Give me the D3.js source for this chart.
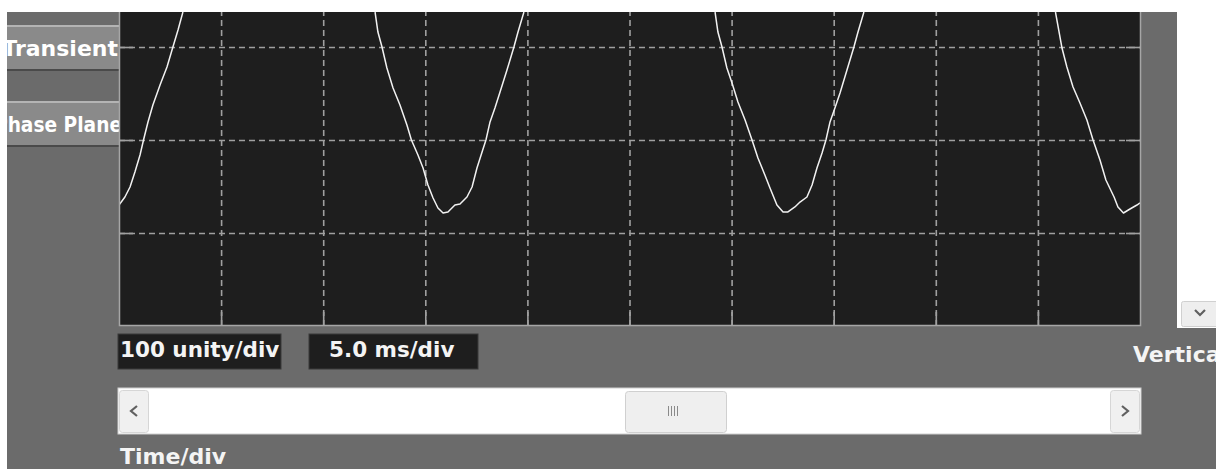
<!DOCTYPE html>
<html>
<head>
<meta charset="utf-8">
<script src="https://cdn.jsdelivr.net/npm/d3@7"></script>
<style>
  html, body { margin: 0; padding: 0; background: #ffffff; }
  svg { display: block; }
  text { font-family: "DejaVu Sans", Verdana, sans-serif; font-weight: bold; }
</style>
</head>
<body>
<svg id="scope" width="1216" height="469"></svg>
<script>
// ---- Scope settings ----
const timePerDiv = 5.0;          // ms per division
const unitsPerDiv = 100;         // unity per division
const timeDivisions = 10;
const timeTicks = [5, 10, 15, 20, 25, 30, 35, 40, 45];
const levelTicks = [-300, -200, -100];
const readoutLabels = ["100 unity/div", "5.0 ms/div"];
const modeButtons = ["Transient", "Phase Plane"];

// ---- Captured trace (time in ms, level in unity); null splits the
// trace where it leaves the top of the screen ----
const traceTime = [
  0.00, 0.29, 0.54, 0.78, 1.03, 1.20, 1.42, 1.66, 2.01, 2.35, 2.64, 2.89, 3.13,
  null,
  12.54, 12.68, 12.88, 13.12, 13.42, 13.76, 14.10, 14.32, 14.64, 14.89, 15.13, 15.38,
  15.62, 15.87, 16.11, 16.45, 16.70, 17.04, 17.29, 17.53, 17.78, 17.97, 18.17, 18.41,
  18.66, 19.00, 19.34, 19.54, 19.83,
  null,
  29.19, 29.33, 29.53, 29.77, 30.02, 30.31, 30.66, 31.00, 31.29, 31.63, 31.88, 32.22,
  32.52, 32.76, 33.10, 33.35, 33.69, 33.94, 34.18, 34.43, 34.62, 34.82, 35.06, 35.31,
  35.65, 35.99, 36.19, 36.48,
  null,
  45.86, 46.18, 46.42, 46.72, 47.06, 47.40, 47.70, 48.04, 48.33, 48.73, 48.92, 49.19,
  49.51, 49.85, 50.00
];
const traceLevel = [
  -270.0, -261.3, -250.5, -234.4, -216.1, -200.0, -180.6, -162.4, -140.9, -121.5, -100.0, -81.7, -62.4,
  null,
  -62.4, -83.9, -100.0, -122.6, -144.1, -162.4, -183.9, -200.0, -216.1, -230.1, -248.4, -262.4,
  -273.1, -278.5, -277.4, -269.9, -268.8, -261.3, -250.5, -230.1, -212.9, -200.0, -180.6, -165.6,
  -148.4, -124.7, -100.0, -83.9, -62.4,
  null,
  -62.4, -83.9, -100.0, -122.6, -138.7, -159.1, -178.5, -200.0, -219.4, -237.6, -251.6, -269.9,
  -277.4, -277.4, -272.0, -266.7, -261.3, -248.4, -230.1, -214.0, -200.0, -180.6, -165.6, -149.5,
  -124.7, -100.0, -83.9, -62.4,
  null,
  -62.4, -101.1, -121.5, -143.0, -160.2, -178.5, -200.0, -221.5, -243.0, -261.3, -272.0, -278.5,
  -274.2, -269.9, -267.7
];

// ---- Layout ----
const svg = d3.select("#scope");
const W = 1216, H = 469;
const screen = { left: 119, right: 1140, top: 12, bottom: 326 };

const x = d3.scaleLinear()
  .domain([0, timePerDiv * timeDivisions])
  .range([screen.left, screen.right]);
const y = d3.scaleLinear()
  .domain([-4 * unitsPerDiv, 0])
  .range([screen.bottom, screen.bottom - 4 * 93]);

// Panel background
svg.append("rect").attr("x", 0).attr("y", 0).attr("width", W).attr("height", H).attr("fill", "#ffffff");
svg.append("rect").attr("x", 7).attr("y", 12).attr("width", W - 7).attr("height", H - 12).attr("fill", "#6b6b6b");
svg.append("rect").attr("x", 1177).attr("y", 12).attr("width", W - 1177).attr("height", 316).attr("fill", "#ffffff");

// Mode buttons on the left, clipped by the panel edge
const defs = svg.append("defs");
defs.append("clipPath").attr("id", "btnClip")
  .append("rect").attr("x", 7).attr("y", 0).attr("width", 114).attr("height", H);
const btnG = svg.append("g").attr("clip-path", "url(#btnClip)");
const btnTops = [25, 101];
const btnText = [
  { right: 118, size: 22, length: null },
  { right: 122, size: 21, length: 128 }
];
modeButtons.forEach((label, i) => {
  const top = btnTops[i];
  btnG.append("rect").attr("x", -60).attr("y", top).attr("width", 181).attr("height", 46).attr("fill", "#8a8a8a");
  btnG.append("rect").attr("x", -60).attr("y", top).attr("width", 181).attr("height", 2).attr("fill", "#b4b4b4");
  btnG.append("rect").attr("x", -60).attr("y", top + 44).attr("width", 181).attr("height", 2).attr("fill", "#4a4a4a");
  btnG.append("rect").attr("x", 119).attr("y", top).attr("width", 2).attr("height", 46).attr("fill", "#5a5a5a");
  const t = btnText[i];
  const txt = btnG.append("text")
    .attr("x", t.right).attr("y", top + 31)
    .attr("text-anchor", "end")
    .attr("font-size", t.size)
    .attr("fill", "#ffffff")
    .text(label);
  if (t.length) txt.attr("textLength", t.length).attr("lengthAdjust", "spacingAndGlyphs");
});

// Screen
svg.append("rect")
  .attr("x", screen.left).attr("y", screen.top)
  .attr("width", screen.right - screen.left).attr("height", screen.bottom - screen.top)
  .attr("fill", "#1e1e1e");

defs.append("clipPath").attr("id", "screenClip")
  .append("rect")
  .attr("x", screen.left).attr("y", screen.top)
  .attr("width", screen.right - screen.left).attr("height", screen.bottom - screen.top);
const scr = svg.append("g").attr("clip-path", "url(#screenClip)");

const gridColor = "#a0a0a0";

// Dashed graticule from the axes
const vGrid = scr.append("g")
  .attr("transform", `translate(0,${screen.bottom})`)
  .call(d3.axisBottom(x).tickValues(timeTicks).tickSize(-(screen.bottom - screen.top)).tickFormat(""));
const hGrid = scr.append("g")
  .attr("transform", `translate(${screen.left},0)`)
  .call(d3.axisLeft(y).tickValues(levelTicks).tickSize(-(screen.right - screen.left)).tickFormat(""));
[vGrid, hGrid].forEach(g => {
  g.select(".domain").remove();
  g.selectAll(".tick line")
    .attr("stroke", gridColor)
    .attr("stroke-width", 1.6)
    .attr("stroke-dasharray", "6,4");
});

// Solid edge ticks
const tickLen = 14;
const edgeTicks = [
  { axis: d3.axisTop(x).tickValues(timeTicks), t: `translate(0,${screen.bottom})` },
  { axis: d3.axisRight(y).tickValues(levelTicks), t: `translate(${screen.left},0)` },
  { axis: d3.axisLeft(y).tickValues(levelTicks), t: `translate(${screen.right},0)` }
];
edgeTicks.forEach(e => {
  const g = scr.append("g").attr("transform", e.t)
    .call(e.axis.tickSize(tickLen).tickFormat(""));
  g.select(".domain").remove();
  g.selectAll(".tick line").attr("stroke", gridColor).attr("stroke-width", 1.6);
});

// Trace
const pts = traceTime.map((t, i) => [t, traceLevel[i]]);
const line = d3.line()
  .defined(d => d[0] !== null && d[1] !== null)
  .x(d => x(d[0]))
  .y(d => y(d[1]));
scr.append("path")
  .attr("d", line(pts))
  .attr("fill", "none")
  .attr("stroke", "#f2f2f2")
  .attr("stroke-width", 1.5)
  .attr("stroke-linejoin", "round");

// Screen border
svg.append("path")
  .attr("d", `M${screen.left + 0.5},${screen.top} V${screen.bottom - 0.5} H${screen.right + 0.5} V${screen.top}`)
  .attr("fill", "none")
  .attr("stroke", "#a6a6a6")
  .attr("stroke-width", 1.5);

// Readouts
const readoutBoxes = [
  { x: 118, w: 163, tx: 120 },
  { x: 309, w: 169, tx: 329 }
];
readoutLabels.forEach((label, i) => {
  const b = readoutBoxes[i];
  svg.append("rect").attr("x", b.x).attr("y", 334).attr("width", b.w).attr("height", 35)
    .attr("fill", "#1e1e1e").attr("stroke", "#3a3a3a").attr("stroke-width", 1);
  svg.append("text").attr("x", b.tx).attr("y", 357)
    .attr("font-size", 21.5).attr("fill", "#f4f4f4").text(label);
});

// Time/div scrollbar
svg.append("rect").attr("x", 118).attr("y", 388).attr("width", 1023).attr("height", 46)
  .attr("fill", "#ffffff").attr("stroke", "#cfcfcf").attr("stroke-width", 1);
function scrollButton(bx, dir) {
  svg.append("rect").attr("x", bx + 0.5).attr("y", 390.5).attr("width", 29).attr("height", 42)
    .attr("rx", 3).attr("fill", "#f0f0f0").attr("stroke", "#d6d6d6");
  const cx = bx + 15, cy = 411;
  const d = dir < 0
    ? `M${cx + 3},${cy - 5} L${cx - 3},${cy} L${cx + 3},${cy + 5}`
    : `M${cx - 3},${cy - 5} L${cx + 3},${cy} L${cx - 3},${cy + 5}`;
  svg.append("path").attr("d", d).attr("fill", "none").attr("stroke", "#606060").attr("stroke-width", 2.2);
}
scrollButton(119, -1);
scrollButton(1110, 1);
svg.append("rect").attr("x", 625.5).attr("y", 391.5).attr("width", 101).attr("height", 41)
  .attr("rx", 3).attr("fill", "#efefef").attr("stroke", "#d0d0d0");
[668, 671, 674, 677].forEach(gx => {
  svg.append("rect").attr("x", gx).attr("y", 406).attr("width", 1).attr("height", 10).attr("fill", "#8a8a8a");
});

// Labels
svg.append("text").attr("x", 120).attr("y", 464)
  .attr("font-size", 22).attr("fill", "#f4f4f4").text("Time/div");
svg.append("text").attr("x", 1133).attr("y", 362)
  .attr("font-size", 22).attr("fill", "#f4f4f4").text("Vertical");

// Vertical-scale dropdown button
svg.append("rect").attr("x", 1181.5).attr("y", 301.5).attr("width", 40).attr("height", 25)
  .attr("rx", 2).attr("fill", "#eeeeee").attr("stroke", "#d0d0d0");
svg.append("path")
  .attr("d", "M1195,310 L1200,315 L1205,310")
  .attr("fill", "none").attr("stroke", "#606060").attr("stroke-width", 2.2);
</script>
</body>
</html>
